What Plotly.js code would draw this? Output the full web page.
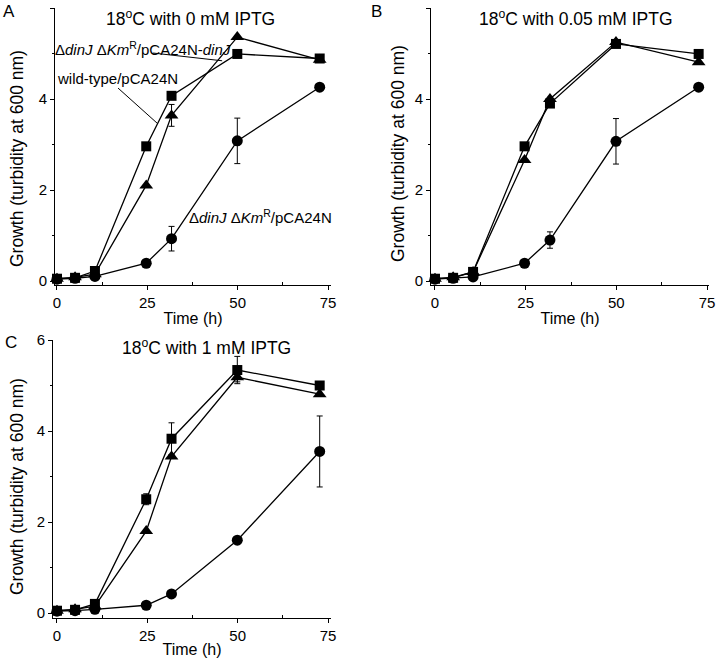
<!DOCTYPE html>
<html>
<head>
<meta charset="utf-8">
<script src="https://cdn.plot.ly/plotly-3.0.1.min.js"></script>
<style>
html,body{margin:0;padding:0;background:#fff;}
#chart{width:719px;height:658px;}
</style>
</head>
<body>
<div id="chart"></div>
<script>
// Sampling times (h)
const time = [0, 5, 10.5, 24.7, 31.7, 49.9, 72.7];

const seriesNames = ["wild-type/pCA24N", "ΔdinJ ΔKmR/pCA24N-dinJ", "ΔdinJ ΔKmR/pCA24N"];

// Panel A: 18°C with 0 mM IPTG
const A_wt      = [0.05, 0.07, 0.22, 2.96, 4.07, 4.99, 4.89];
const A_wt_err  = [0, 0, 0, 0, 0, 0, 0];
const A_comp    = [0.05, 0.08, 0.15, 2.10, 3.64, 5.36, 4.86];
const A_comp_err= [0, 0, 0, 0, 0.24, 0, 0];
const A_del     = [0.04, 0.06, 0.10, 0.39, 0.93, 3.08, 4.26];
const A_del_err = [0, 0, 0, 0, 0.27, 0.50, 0];

// Panel B: 18°C with 0.05 mM IPTG
const B_wt      = [0.05, 0.07, 0.20, 2.96, 3.90, 5.21, 4.99];
const B_wt_err  = [0, 0, 0, 0, 0, 0, 0];
const B_comp    = [0.05, 0.08, 0.20, 2.66, 4.00, 5.25, 4.81];
const B_comp_err= [0, 0, 0, 0, 0, 0, 0];
const B_del     = [0.04, 0.06, 0.09, 0.39, 0.90, 3.07, 4.26];
const B_del_err = [0, 0, 0, 0, 0.18, 0.50, 0];

// Panel C: 18°C with 1 mM IPTG
const C_wt      = [0.05, 0.07, 0.20, 2.50, 3.83, 5.34, 5.00];
const C_wt_err  = [0, 0, 0, 0.12, 0.35, 0.30, 0];
const C_comp    = [0.05, 0.08, 0.15, 1.80, 3.44, 5.18, 4.81];
const C_comp_err= [0, 0, 0, 0, 0, 0.10, 0];
const C_del     = [0.04, 0.05, 0.08, 0.17, 0.42, 1.60, 3.55];
const C_del_err = [0, 0, 0, 0, 0, 0, 0.78];

const panelTitles = ["18<sup>o</sup>C with 0 mM IPTG", "18<sup>o</sup>C with 0.05 mM IPTG", "18<sup>o</sup>C with 1 mM IPTG"];
const panelLetters = ["A", "B", "C"];
const xTitle = "Time (h)";
const yTitle = "Growth (turbidity at 600 nm)";
const labelComp = "Δ<i>dinJ</i> Δ<i>Km</i><sup>R</sup>/pCA24N-<i>dinJ</i>";
const labelWT = "wild-type/pCA24N";
const labelDel = "Δ<i>dinJ</i> Δ<i>Km</i><sup>R</sup>/pCA24N";
const xTicks = [0, 25, 50, 75];
const yTicks = [0, 2, 4, 6];

const FONT = "Liberation Sans, Arial, sans-serif";

function mk(xa, ya, y, err, symbol, name, size) {
  return {
    x: time, y: y, xaxis: xa, yaxis: ya, name: name,
    type: "scatter", mode: "lines+markers",
    line: {color: "#000", width: 1.3},
    marker: {symbol: symbol, size: size, color: "#000"},
    error_y: {type: "data", array: err, visible: true, color: "#000", thickness: 1, width: 3},
    showlegend: false, cliponaxis: false
  };
}

const traces = [];
const panels = [
  ["x", "y", A_wt, A_wt_err, A_comp, A_comp_err, A_del, A_del_err],
  ["x2", "y2", B_wt, B_wt_err, B_comp, B_comp_err, B_del, B_del_err],
  ["x3", "y3", C_wt, C_wt_err, C_comp, C_comp_err, C_del, C_del_err]
];
panels.forEach(p => {
  traces.push(mk(p[0], p[1], p[6], p[7], "circle", seriesNames[2], 11));
  traces.push(mk(p[0], p[1], p[4], p[5], "triangle-up", seriesNames[1], 12));
  traces.push(mk(p[0], p[1], p[2], p[3], "square", seriesNames[0], 10));
});

function xax(domain, range, anchor) {
  return {
    domain: domain, range: range, anchor: anchor,
    tickmode: "array", tickvals: xTicks, ticktext: xTicks.map(String),
    ticks: "outside", ticklen: 4, tickwidth: 1, tickcolor: "#000",
    minor: {tickvals: [12.5, 37.5, 62.5], ticks: "inside", ticklen: 3, tickcolor: "#000"},
    showline: true, linecolor: "#000", linewidth: 1, showgrid: false, zeroline: false,
    tickfont: {family: FONT, size: 15, color: "#000"},
    title: {text: xTitle, font: {family: FONT, size: 16, color: "#000"}, standoff: 2},
    fixedrange: true
  };
}
function yax(domain, range, anchor) {
  return {
    domain: domain, range: range, anchor: anchor,
    tickmode: "array", tickvals: yTicks, ticktext: yTicks.map(String),
    ticks: "outside", ticklen: 4, tickwidth: 1, tickcolor: "#000",
    minor: {tickvals: [1, 3, 5], ticks: "outside", ticklen: 2, tickcolor: "#000"},
    showline: true, linecolor: "#000", linewidth: 1, showgrid: false, zeroline: false,
    tickfont: {family: FONT, size: 15, color: "#000"},
    fixedrange: true
  };
}

const W = 719, H = 658;
function ann(px, py, text, size, xanchor, extra) {
  return Object.assign({xref: "paper", yref: "paper", x: px / W, y: (H - py) / H, text: text,
    showarrow: false, font: {size: size, family: FONT, color: "#000"}, xanchor: xanchor, yanchor: "middle"}, extra || {});
}

const layout = {
  width: W, height: H,
  margin: {l: 0, r: 0, t: 0, b: 0},
  paper_bgcolor: "#fff", plot_bgcolor: "#fff",
  font: {family: FONT, color: "#000"},
  showlegend: false,
  xaxis:  xax([55/W, 331/W], [-0.55, 75.83], "y"),
  yaxis:  yax([(H-285)/H, (H-8)/H], [-0.088, 6], "x"),
  xaxis2: xax([431/W, 709/W], [-1.1, 75.55], "y2"),
  yaxis2: yax([(H-285)/H, (H-8)/H], [-0.088, 6], "x2"),
  xaxis3: xax([53/W, 331/W], [-1.1, 75.83], "y3"),
  yaxis3: yax([(H-618)/H, (H-340)/H], [-0.11, 6], "x3"),
  annotations: [
    ann(190, 18, panelTitles[0], 17.5, "center"),
    ann(576, 18, panelTitles[1], 17.5, "center"),
    ann(207, 347, panelTitles[2], 17.5, "center"),
    ann(1, 11, panelLetters[0], 17, "left"),
    ann(369, 11, panelLetters[1], 17, "left"),
    ann(3, 343, panelLetters[2], 17, "left"),
    ann(17, 159, yTitle, 17.5, "center", {textangle: -90}),
    ann(398, 154, yTitle, 17.5, "center", {textangle: -90}),
    ann(17, 487, yTitle, 17.5, "center", {textangle: -90}),
    ann(53, 48, labelComp, 15, "left"),
    ann(55, 79, labelWT, 15, "left"),
    ann(187, 217, labelDel, 15, "left")
  ],
  shapes: [
    {type: "line", xref: "x", yref: "y", x0: 26.6, y0: 5.01, x1: 45.7, y1: 4.84, line: {color: "#000", width: 1}},
    {type: "line", xref: "x", yref: "y", x0: 16.9, y0: 4.24, x1: 27.7, y1: 3.47, line: {color: "#000", width: 1}}
  ]
};

Plotly.newPlot("chart", traces, layout, {staticPlot: true, displayModeBar: false});
</script>
</body>
</html>
